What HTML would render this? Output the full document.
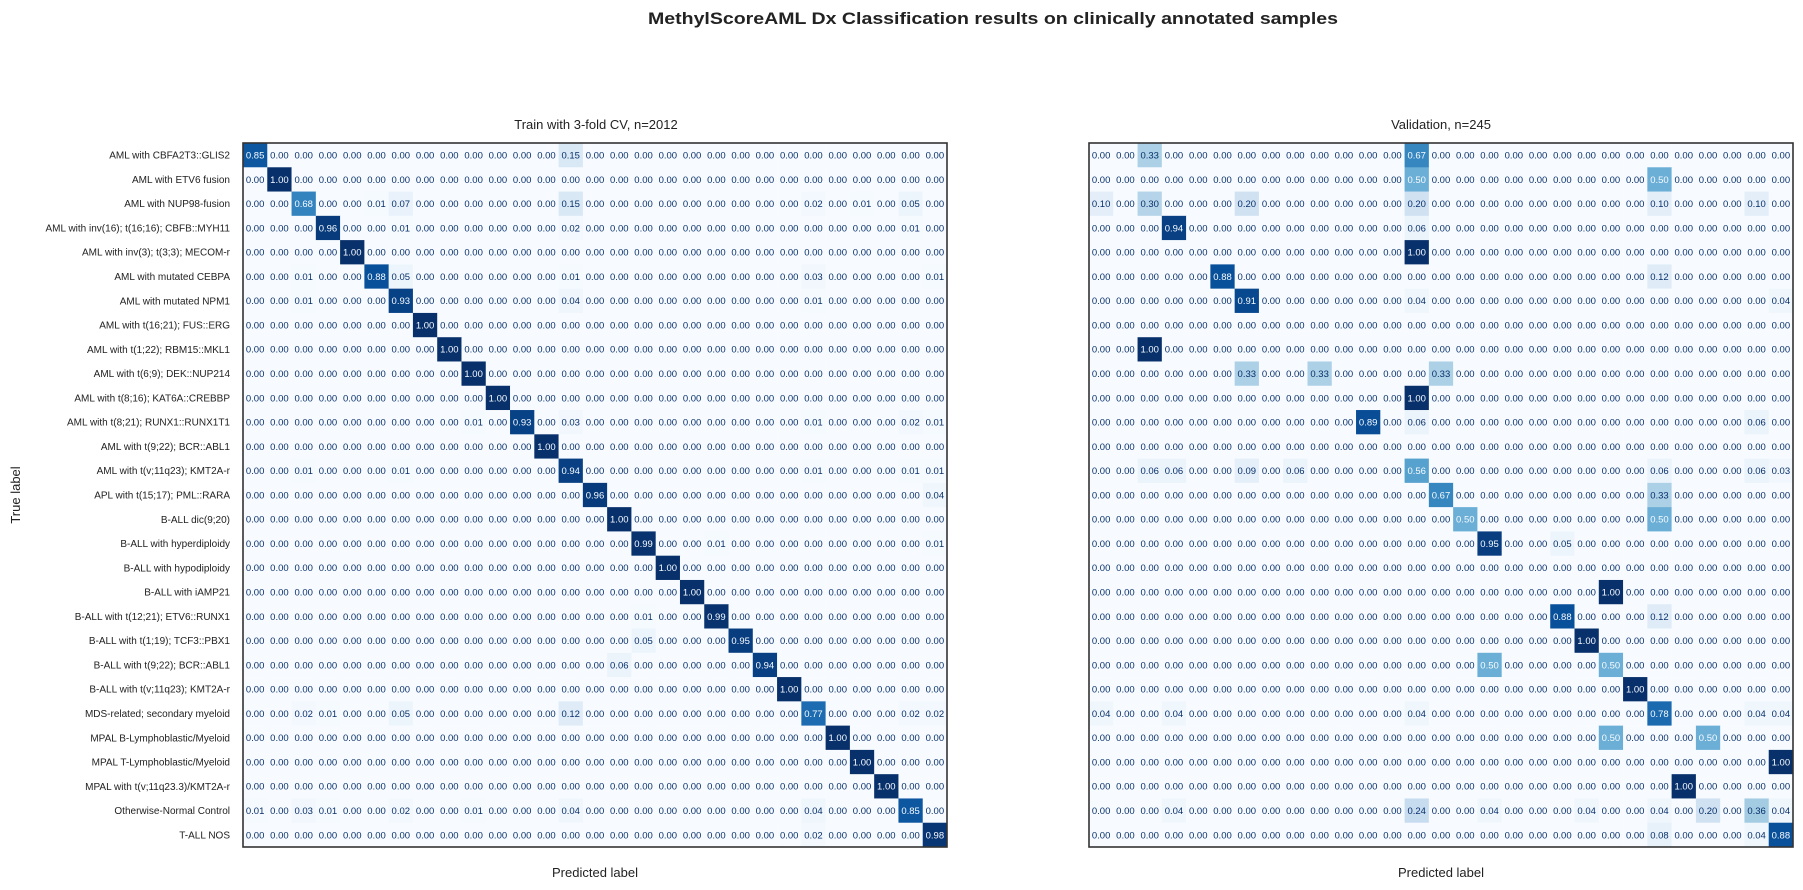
<!DOCTYPE html>
<html><head><meta charset="utf-8">
<style>
html,body{margin:0;padding:0;background:#fff;}
svg{display:block;font-family:"Liberation Sans","DejaVu Sans",sans-serif;}
</style></head>
<body>
<svg id="fig" width="1803" height="890" viewBox="0 0 1803 890" xmlns="http://www.w3.org/2000/svg">
<text x="993" y="24" text-anchor="middle" font-size="17" font-weight="bold" fill="#222" textLength="690" lengthAdjust="spacingAndGlyphs">MethylScoreAML Dx Classification results on clinically annotated samples</text>
<text x="596" y="129" text-anchor="middle" font-size="13" fill="#222">Train with 3-fold CV, n=2012</text>
<text x="1441" y="129" text-anchor="middle" font-size="13" fill="#222">Validation, n=245</text>
<text x="595" y="877" text-anchor="middle" font-size="13" fill="#222">Predicted label</text>
<text x="1441" y="877" text-anchor="middle" font-size="13" fill="#222">Predicted label</text>
<text x="0" y="0" transform="translate(20,495) rotate(-90)" text-anchor="middle" font-size="13" fill="#222">True label</text>
<g id="left"></g>
<g id="right"></g>
</svg>
<script>
const categories = ["AML with CBFA2T3::GLIS2","AML with ETV6 fusion","AML with NUP98-fusion","AML with inv(16); t(16;16); CBFB::MYH11","AML with inv(3); t(3;3); MECOM-r","AML with mutated CEBPA","AML with mutated NPM1","AML with t(16;21); FUS::ERG","AML with t(1;22); RBM15::MKL1","AML with t(6;9); DEK::NUP214","AML with t(8;16); KAT6A::CREBBP","AML with t(8;21); RUNX1::RUNX1T1","AML with t(9;22); BCR::ABL1","AML with t(v;11q23); KMT2A-r","APL with t(15;17); PML::RARA","B-ALL dic(9;20)","B-ALL with hyperdiploidy","B-ALL with hypodiploidy","B-ALL with iAMP21","B-ALL with t(12;21); ETV6::RUNX1","B-ALL with t(1;19); TCF3::PBX1","B-ALL with t(9;22); BCR::ABL1","B-ALL with t(v;11q23); KMT2A-r","MDS-related; secondary myeloid","MPAL B-Lymphoblastic/Myeloid","MPAL T-Lymphoblastic/Myeloid","MPAL with t(v;11q23.3)/KMT2A-r","Otherwise-Normal Control","T-ALL NOS"];
// nonzero entries per row: [col, value]
const trainRows = [
[[0,.85],[13,.15]],
[[1,1]],
[[2,.68],[5,.01],[6,.07],[13,.15],[23,.02],[25,.01],[27,.05]],
[[3,.96],[6,.01],[13,.02],[27,.01]],
[[4,1]],
[[2,.01],[5,.88],[6,.05],[13,.01],[23,.03],[28,.01]],
[[2,.01],[6,.93],[13,.04],[23,.01]],
[[7,1]],
[[8,1]],
[[9,1]],
[[10,1]],
[[9,.01],[11,.93],[13,.03],[23,.01],[27,.02],[28,.01]],
[[12,1]],
[[2,.01],[6,.01],[13,.94],[23,.01],[27,.01],[28,.01]],
[[14,.96],[28,.04]],
[[15,1]],
[[16,.99],[19,.01],[28,.01]],
[[17,1]],
[[18,1]],
[[16,.01],[19,.99]],
[[16,.05],[20,.95]],
[[15,.06],[21,.94]],
[[22,1]],
[[2,.02],[3,.01],[6,.05],[13,.12],[23,.77],[27,.02],[28,.02]],
[[24,1]],
[[25,1]],
[[26,1]],
[[0,.01],[2,.03],[3,.01],[6,.02],[9,.01],[13,.04],[23,.04],[27,.85]],
[[23,.02],[28,.98]]
];
const validRows = [
[[2,.33],[13,.67]],
[[13,.50],[23,.50]],
[[0,.10],[2,.30],[6,.20],[13,.20],[23,.10],[27,.10]],
[[3,.94],[13,.06]],
[[13,1]],
[[5,.88],[23,.12]],
[[6,.91],[13,.04],[28,.04]],
[],
[[2,1]],
[[6,.33],[9,.33],[14,.33]],
[[13,1]],
[[11,.89],[13,.06],[27,.06]],
[],
[[2,.06],[3,.06],[6,.09],[8,.06],[13,.56],[23,.06],[27,.06],[28,.03]],
[[14,.67],[23,.33]],
[[15,.50],[23,.50]],
[[16,.95],[19,.05]],
[],
[[21,1]],
[[19,.88],[23,.12]],
[[20,1]],
[[16,.50],[21,.50]],
[[22,1]],
[[0,.04],[3,.04],[13,.04],[23,.78],[27,.04],[28,.04]],
[[21,.50],[25,.50]],
[[28,1]],
[[24,1]],
[[3,.04],[13,.24],[16,.04],[20,.04],[23,.04],[25,.20],[27,.36],[28,.04]],
[[23,.08],[27,.04],[28,.88]]
];
const blues=[[247,251,255],[222,235,247],[198,219,239],[158,202,225],[107,174,214],[66,146,198],[33,113,181],[8,81,156],[8,48,107]];
function cmap(v){const t=Math.max(0,Math.min(1,v))*8;const i=Math.min(7,Math.floor(t));const f=t-i;const a=blues[i],b=blues[i+1];return `rgb(${Math.round(a[0]+(b[0]-a[0])*f)},${Math.round(a[1]+(b[1]-a[1])*f)},${Math.round(a[2]+(b[2]-a[2])*f)})`;}
const NS="http://www.w3.org/2000/svg";
const N=categories.length, CELL=704/29;
function xScale(x0,c){return x0+c*CELL;}
function yScale(r){return 143+r*CELL;}
function mk(tag,attrs,parent){const e=document.createElementNS(NS,tag);for(const k in attrs)e.setAttribute(k,attrs[k]);parent.appendChild(e);return e;}
function draw(gid,x0,rows,showLabels,prefix){
  const g=document.getElementById(gid);
  for(let r=0;r<N;r++){
    const vals=new Array(N).fill(0);
    rows[r].forEach(([c,v])=>{vals[c]=v;});
    for(let c=0;c<N;c++){
      const v=vals[c];
      const rect=mk('rect',{x:xScale(x0,c),y:yScale(r),width:CELL+0.3,height:CELL+0.3,fill:cmap(v)},g);
      
      
      const t=mk('text',{x:xScale(x0,c)+CELL/2,y:yScale(r)+CELL/2+3.4,'text-anchor':'middle','font-size':'9.5',fill:v>=0.5?'#f7fbff':'#08306b'},g);
      
      
      t.textContent=v.toFixed(2);
    }
    if(showLabels){
      const l=mk('text',{x:x0-13,y:yScale(r)+CELL/2+3.5,'text-anchor':'end','font-size':'10',fill:'#222'},g);
      
      
      l.textContent=categories[r];
    }
  }
  const fr=mk('rect',{x:x0,y:143,width:704,height:704,fill:'none',stroke:'#333','stroke-width':'1.6'},g);
  
  
}
draw('left',243,trainRows,true,'train');
draw('right',1089,validRows,false,'validation');
</script>
</body></html>
